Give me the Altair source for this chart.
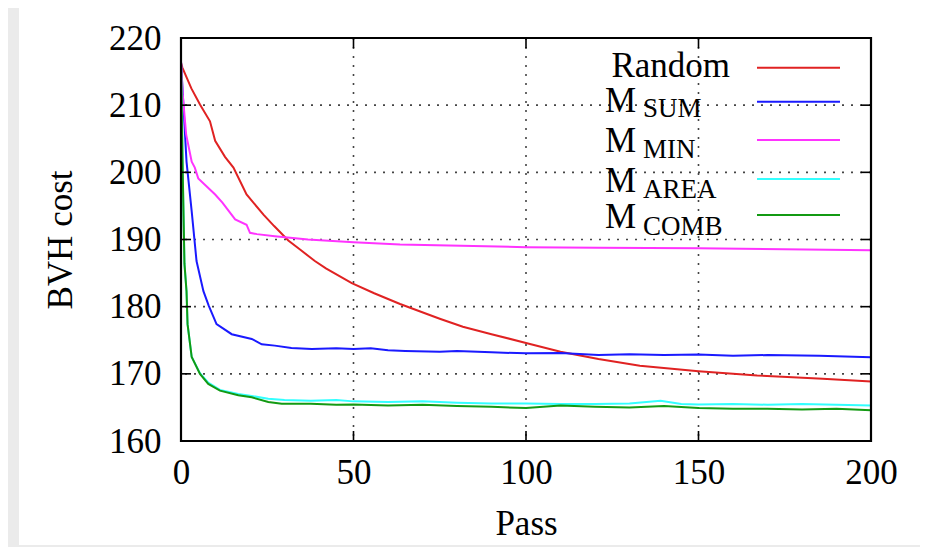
import altair as alt
import pandas as pd

# ---------------- data ----------------
random_pass = [0, 0.4, 3, 5.5, 8.4, 9.9, 12.75, 15.2, 19, 23.9, 27, 31.1, 34.5, 38.8, 42, 49.5, 56,
               63.5, 75, 81.7, 90, 100, 110, 121, 133, 150, 167, 186, 200]
random_cost = [216.3, 215.6, 212.5, 210.1, 207.6, 204.7, 202.3, 200.7, 196.7, 193.7, 192.0, 189.85, 188.5, 186.8,
               185.7, 183.5, 182.0, 180.4, 178.2, 177.0, 175.9, 174.6, 173.3, 172.2, 171.2, 170.4, 169.75, 169.25,
               168.85]

sum_pass = [0, 1.6, 3.1, 4.5, 6.5, 8.0, 10.3, 14.7, 20.5, 23.4, 27.2, 32, 37.9, 45, 50, 55, 60, 65, 75, 80,
            90, 100, 110, 121, 130, 140, 150, 160, 170, 185, 200]
sum_cost = [216.5, 201.6, 194.2, 186.8, 182.3, 180.2, 177.4, 175.9, 175.2, 174.4, 174.2, 173.85, 173.7, 173.8,
            173.7, 173.8, 173.5, 173.4, 173.3, 173.4, 173.2, 173.05, 173.1, 172.8, 172.9, 172.8, 172.86, 172.7,
            172.8, 172.7, 172.46]

min_pass = [0, 0.5, 1.5, 3.1, 4, 5, 9.9, 12, 15.7, 19, 20, 22, 27.2, 36.8, 50, 63.5, 100, 121, 150, 200]
min_cost = [216.5, 211.6, 205.6, 201.6, 200.7, 199.1, 196.7, 195.5, 193.0, 192.2, 191.0, 190.8, 190.5, 190.0,
            189.6, 189.26, 188.86, 188.76, 188.7, 188.4]

area_pass = [0, 0.5, 1.0, 1.6, 1.9, 3.1, 5.5, 7.9, 11.3, 16.6, 20.5, 25.3, 30, 37.6, 45, 50, 60, 70, 80, 90,
             100, 110, 120, 130, 139, 145, 150, 160, 170, 180, 190, 200]
area_cost = [216.5, 200, 186.4, 182.3, 177.4, 172.5, 170.1, 168.7, 167.6, 167.0, 166.7, 166.3, 166.1, 166.0,
             166.1, 165.9, 165.8, 165.9, 165.7, 165.6, 165.6, 165.5, 165.5, 165.6, 166.0, 165.5, 165.45, 165.5,
             165.4, 165.5, 165.4, 165.3]

comb_pass = [0, 0.5, 1.0, 1.6, 1.9, 3.1, 5.5, 7.9, 11.3, 16.6, 20.5, 25.3, 29.2, 37.6, 45, 50, 60, 70, 80, 90,
             100, 110, 120, 130, 140, 150, 160, 170, 180, 190, 200]
comb_cost = [216.5, 200, 186.4, 182.3, 177.4, 172.5, 170.0, 168.5, 167.5, 166.8, 166.5, 165.8, 165.55, 165.55,
             165.4, 165.45, 165.3, 165.4, 165.2, 165.1, 164.9, 165.3, 165.1, 165.0, 165.2, 164.9, 164.8, 164.8,
             164.7, 164.8, 164.56]

series_names = ["Random", "M_SUM", "M_MIN", "M_AREA", "M_COMB"]
series_colors = ["#e02222", "#1a1aff", "#ff33ff", "#33ffff", "#139a13"]
series_data = [(random_pass, random_cost), (sum_pass, sum_cost), (min_pass, min_cost),
               (area_pass, area_cost), (comb_pass, comb_cost)]

legend_main = ["Random", "M", "M", "M", "M"]
legend_sub = ["", "SUM", "MIN", "AREA", "COMB"]

x_ticks = [0, 50, 100, 150, 200]
y_ticks = [160, 170, 180, 190, 200, 210, 220]
x_grid = [50, 100, 150]
y_grid = [170, 180, 190, 200, 210]

# ---------------- chart ----------------
FONT = "Liberation Serif"
FS = 35
W, H = 690, 403

rows = []
for name, (xs, ys) in zip(series_names, series_data):
    for xv, yv in zip(xs, ys):
        rows.append({"series": name, "pass": xv, "cost": yv})
df = pd.DataFrame(rows)

x_scale = alt.Scale(domain=[0, 200], nice=False, zero=False)
y_scale = alt.Scale(domain=[160, 220], nice=False, zero=False)

x_axis = alt.Axis(values=x_ticks, grid=False, domain=False, ticks=False, labelFont=FONT, labelFontSize=FS,
                  labelColor="black", labelPadding=14, titleFont=FONT, titleFontSize=FS, titleFontWeight="normal",
                  titleColor="black", titlePadding=16, zindex=1, labelFlush=False)
y_axis = alt.Axis(values=y_ticks, grid=False, domain=False, ticks=False, labelFont=FONT, labelFontSize=FS,
                  labelColor="black", labelPadding=20, titleFont=FONT, titleFontSize=FS, titleFontWeight="normal",
                  titleColor="black", titlePadding=30, zindex=1, labelFlush=False)

one = pd.DataFrame({"a": [0]})

card = alt.Chart(one).mark_rect(fill="white").encode(
    x=alt.value(-162), x2=alt.value(739), y=alt.value(-34), y2=alt.value(507))

gx = alt.Chart(pd.DataFrame({"g": x_grid})).mark_rule(color="#444", strokeWidth=1.6, strokeDash=[2, 7]).encode(
    x=alt.X("g:Q", scale=x_scale, axis=x_axis, title="Pass"))
gy = alt.Chart(pd.DataFrame({"g": y_grid})).mark_rule(color="#444", strokeWidth=1.6, strokeDash=[2, 7]).encode(
    y=alt.Y("g:Q", scale=y_scale, axis=y_axis, title="BVH cost"))

layers = [card, gx, gy]
for name, color in zip(series_names, series_colors):
    layers.append(
        alt.Chart(df).transform_filter(alt.datum.series == name).mark_line(color=color, strokeWidth=2).encode(
            x=alt.X("pass:Q", scale=x_scale, axis=x_axis, title="Pass"),
            y=alt.Y("cost:Q", scale=y_scale, axis=y_axis, title="BVH cost"),
        )
    )

# inward major ticks (gnuplot style, mirrored)
tx = pd.DataFrame({"t": x_grid})
ty = pd.DataFrame({"t": y_grid})
tick_style = dict(color="black", strokeWidth=1.6)
layers.append(alt.Chart(tx).mark_rule(**tick_style).encode(
    x=alt.X("t:Q", scale=x_scale, axis=x_axis, title="Pass"), y=alt.value(H), y2=alt.value(H - 10)))
layers.append(alt.Chart(tx).mark_rule(**tick_style).encode(
    x=alt.X("t:Q", scale=x_scale, axis=x_axis, title="Pass"), y=alt.value(0), y2=alt.value(10)))
layers.append(alt.Chart(ty).mark_rule(**tick_style).encode(
    y=alt.Y("t:Q", scale=y_scale, axis=y_axis, title="BVH cost"), x=alt.value(0), x2=alt.value(10)))
layers.append(alt.Chart(ty).mark_rule(**tick_style).encode(
    y=alt.Y("t:Q", scale=y_scale, axis=y_axis, title="BVH cost"), x=alt.value(W), x2=alt.value(W - 10)))

# frame
layers.append(alt.Chart(one).mark_rect(filled=False, stroke="black", strokeWidth=2.2).encode(
    x=alt.value(0), x2=alt.value(W), y=alt.value(0), y2=alt.value(H)))

# custom legend (gnuplot-style, with subscripts)
line_y = [29.7, 63.7, 102, 141, 177]
main_base = [38.7, 73.7, 113.7, 153.7, 190.3]
sub_base = [0, 79.3, 120.3, 159.7, 197]
for i, color in enumerate(series_colors):
    layers.append(alt.Chart(one).mark_rule(color=color, strokeWidth=2).encode(
        x=alt.value(576), x2=alt.value(659), y=alt.value(line_y[i])))
    if legend_sub[i]:
        layers.append(alt.Chart(one).mark_text(text=legend_main[i], font=FONT, fontSize=FS, align="left",
                                               baseline="alphabetic", color="black").encode(
            x=alt.value(424), y=alt.value(main_base[i])))
        layers.append(alt.Chart(one).mark_text(text=legend_sub[i], font=FONT, fontSize=27, align="left",
                                               baseline="alphabetic", color="black").encode(
            x=alt.value(462), y=alt.value(sub_base[i])))
    else:
        layers.append(alt.Chart(one).mark_text(text=legend_main[i], font=FONT, fontSize=FS, align="right",
                                               baseline="alphabetic", color="black").encode(
            x=alt.value(549), y=alt.value(main_base[i])))

chart = alt.layer(*layers).properties(
    width=W, height=H,
    autosize=alt.AutoSizeParams(type="none"),
    padding={"left": 173, "top": 30, "right": 49, "bottom": 106},
    background="#ebebeb",
).configure_view(stroke=None)

chart.save("out.html", embed_options={"renderer": "svg", "actions": False})
